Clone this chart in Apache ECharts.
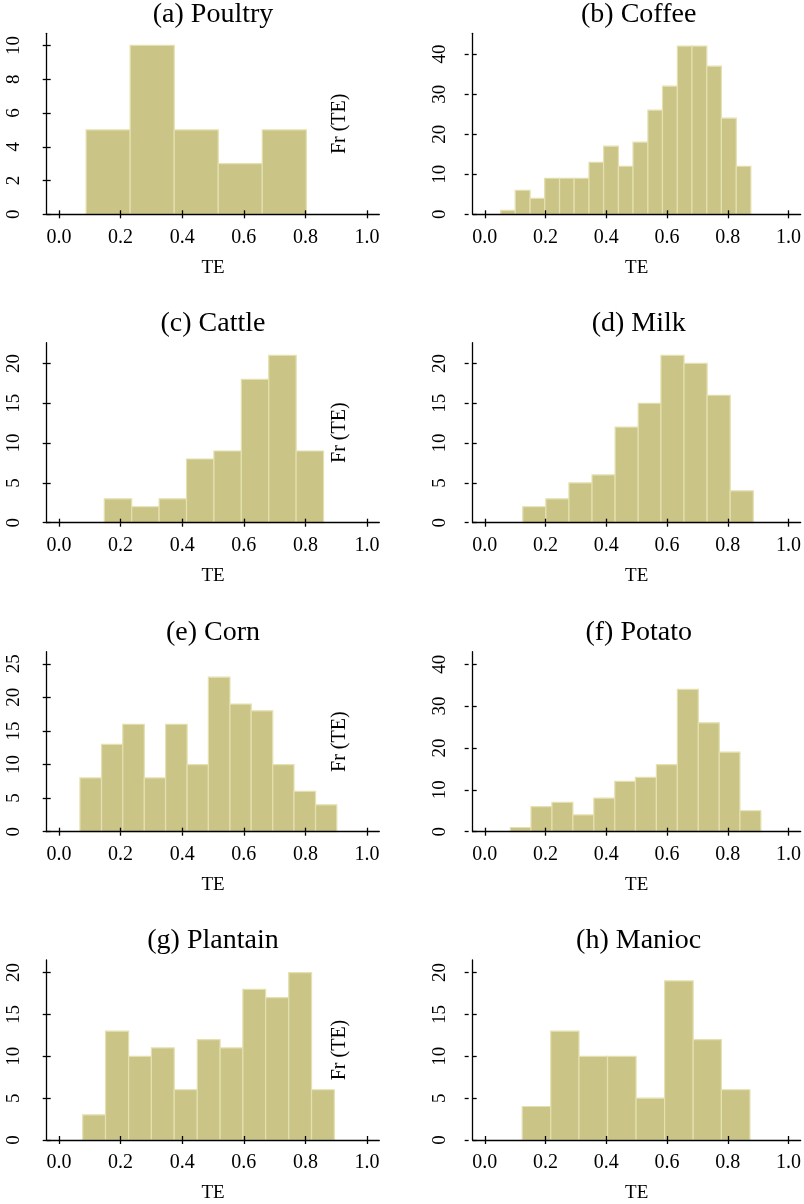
<!DOCTYPE html>
<html>
<head>
<meta charset="utf-8">
<title>TE histograms</title>
<script src="https://cdn.jsdelivr.net/npm/echarts@6/dist/echarts.min.js"></script>
<style>
    html, body { margin: 0; padding: 0; background: #ffffff; }
    #te_histograms { width: 804px; height: 1204px; }
</style>
</head>
<body>
<div id="te_histograms"></div>
<script>
// panel titles
var panelTitles = ['(a) Poultry', '(b) Coffee', '(c) Cattle', '(d) Milk',
    '(e) Corn', '(f) Potato', '(g) Plantain', '(h) Manioc'];

// bin edges (TE)
var poultryEdges = [0.088, 0.231, 0.374, 0.517, 0.660, 0.803];
var coffeeEdges = [0.052, 0.100, 0.149, 0.197, 0.246, 0.294, 0.343, 0.391, 0.440,
    0.488, 0.537, 0.585, 0.634, 0.682, 0.731, 0.779, 0.828, 0.876];
var cattleEdges = [0.147, 0.236, 0.325, 0.414, 0.503, 0.592, 0.681, 0.770, 0.859];
var milkEdges = [0.125, 0.201, 0.277, 0.353, 0.429, 0.505, 0.580, 0.656, 0.732, 0.808, 0.884];
var cornEdges = [0.068, 0.138, 0.207, 0.277, 0.346, 0.416, 0.485, 0.555, 0.624,
    0.694, 0.763, 0.833, 0.902];
var potatoEdges = [0.084, 0.152, 0.221, 0.290, 0.359, 0.428, 0.496, 0.565, 0.634,
    0.703, 0.772, 0.840, 0.909];
var plantainEdges = [0.077, 0.151, 0.226, 0.300, 0.374, 0.449, 0.523, 0.597, 0.671,
    0.746, 0.820, 0.894];
var maniocEdges = [0.123, 0.217, 0.310, 0.404, 0.498, 0.592, 0.686, 0.779, 0.873];

// counts per bin
var poultryCounts = [5, 10, 5, 3, 5];
var coffeeCounts = [1, 6, 4, 9, 9, 9, 13, 17, 12, 18, 26, 32, 42, 42, 37, 24, 12];
var cattleCounts = [3, 2, 3, 8, 9, 18, 21, 9];
var milkCounts = [2, 3, 5, 6, 12, 15, 21, 20, 16, 4];
var cornCounts = [8, 13, 16, 8, 16, 10, 23, 19, 18, 10, 6, 4];
var potatoCounts = [1, 6, 7, 4, 8, 12, 13, 16, 34, 26, 19, 5];
var plantainCounts = [3, 13, 10, 11, 6, 12, 11, 18, 17, 20, 6];
var maniocCounts = [4, 13, 10, 10, 5, 19, 12, 6];

// axis ticks
var xTicks = [0, 0.2, 0.4, 0.6, 0.8, 1.0];
var yTicksPoultry = [0, 2, 4, 6, 8, 10];
var yTicks40 = [0, 10, 20, 30, 40];
var yTicks20 = [0, 5, 10, 15, 20];
var yTicks25 = [0, 5, 10, 15, 20, 25];
var yMaxes = [10.72, 45.2, 22.6, 22.6, 26.8, 43.0, 21.5, 21.5];

var allEdges = [poultryEdges, coffeeEdges, cattleEdges, milkEdges, cornEdges, potatoEdges, plantainEdges, maniocEdges];
var allCounts = [poultryCounts, coffeeCounts, cattleCounts, milkCounts, cornCounts, potatoCounts, plantainCounts, maniocCounts];
var allYTicks = [yTicksPoultry, yTicks40, yTicks20, yTicks20, yTicks25, yTicks40, yTicks20, yTicks20];

var FONT = 'Liberation Serif';
var BAR_FILL = '#CBC487';
var BAR_EDGE = '#E4E0AF';
var TICK_STYLE = {color: '#000', width: 1.3};

// layout of the 2 x 4 panels
var colLeft = [46.7, 472.7];
var colWidth = [332.6, 332];
var rowTop = [33.3, 342.7, 651.7, 960];
var rowHeight = [181, 180, 180, 180];

initHistograms();

/**
 * 8 个直方图
 */
function initHistograms() {
    var myChart = echarts.init(document.getElementById('te_histograms'), null, {renderer: 'canvas'});
    var grids = [], xAxes = [], yAxes = [], series = [], titles = [], graphics = [];

    for (var i = 0; i < 8; i++) {
        var col = i % 2, row = Math.floor(i / 2);
        var left = colLeft[col], top = rowTop[row], width = colWidth[col], height = rowHeight[row];
        grids.push({left: left, top: top, width: width, height: height});

        // main axes: line, inner half of ticks (above the bars), labels
        xAxes.push({
            type: 'value', gridIndex: i, min: -0.04, max: 1.04, position: 'bottom', z: 10,
            splitLine: {show: false},
            axisLine: {show: true, onZero: false, lineStyle: {color: '#000', width: 1.3}},
            axisTick: {show: true, inside: true, length: 4, customValues: xTicks, lineStyle: TICK_STYLE},
            axisLabel: {
                customValues: xTicks, margin: 13, color: '#000', fontFamily: FONT, fontSize: 20,
                formatter: function (v) { return v.toFixed(1); }
            },
            name: 'TE', nameLocation: 'middle', nameGap: 44,
            nameTextStyle: {color: '#000', fontFamily: FONT, fontSize: 19}
        });
        yAxes.push({
            type: 'value', gridIndex: i, min: 0, max: yMaxes[i], position: 'left', z: 10,
            splitLine: {show: false},
            axisLine: {show: true, onZero: false, lineStyle: {color: '#000', width: 1.3}},
            axisTick: {show: true, inside: true, length: 4, customValues: allYTicks[i], lineStyle: TICK_STYLE},
            axisLabel: {
                customValues: allYTicks[i], rotate: 90, margin: 23, color: '#000', fontFamily: FONT, fontSize: 19
            }
        });
        // opposite-side axes shifted onto the same edges: outer half of ticks
        xAxes.push({
            type: 'value', gridIndex: i, min: -0.04, max: 1.04, position: 'top', offset: -height,
            splitLine: {show: false}, axisLabel: {show: false},
            axisLine: {show: false, onZero: false},
            axisTick: {show: true, inside: true, length: 4, customValues: xTicks, lineStyle: TICK_STYLE}
        });
        yAxes.push({
            type: 'value', gridIndex: i, min: 0, max: yMaxes[i], position: 'right', offset: -width,
            splitLine: {show: false}, axisLabel: {show: false},
            axisLine: {show: false, onZero: false},
            axisTick: {show: true, inside: true, length: 4, customValues: allYTicks[i], lineStyle: TICK_STYLE}
        });

        var data = [];
        for (var j = 0; j < allCounts[i].length; j++) {
            data.push([allEdges[i][j], allEdges[i][j + 1], allCounts[i][j]]);
        }
        series.push({
            type: 'custom',
            xAxisIndex: 2 * i,
            yAxisIndex: 2 * i,
            data: data,
            renderItem: function (params, api) {
                var p0 = api.coord([api.value(0), api.value(2)]);
                var p1 = api.coord([api.value(1), 0]);
                return {
                    type: 'rect',
                    shape: {x: p0[0], y: p0[1], width: p1[0] - p0[0], height: p1[1] - p0[1]},
                    style: {fill: BAR_FILL, stroke: BAR_EDGE, lineWidth: 1.2}
                };
            }
        });

        titles.push({
            text: panelTitles[i],
            left: left + width / 2, top: top - 33, textAlign: 'center', padding: 0,
            textStyle: {color: '#000', fontFamily: FONT, fontSize: 28, fontWeight: 'normal'}
        });

        // "Fr (TE)" beside the left panels
        if (col === 0) {
            graphics.push({
                type: 'text', x: 340, y: top + height / 2, rotation: Math.PI / 2,
                style: {
                    text: 'Fr (TE)', fill: '#000', font: '20px "' + FONT + '"',
                    align: 'center', verticalAlign: 'middle'
                }
            });
        }
    }

    var option = {
        backgroundColor: '#ffffff',
        animation: false,
        title: titles,
        grid: grids,
        xAxis: xAxes,
        yAxis: yAxes,
        series: series,
        graphic: graphics
    };
    if (option && typeof option === "object") {
        myChart.setOption(option, true);
    }
}
</script>
</body>
</html>
